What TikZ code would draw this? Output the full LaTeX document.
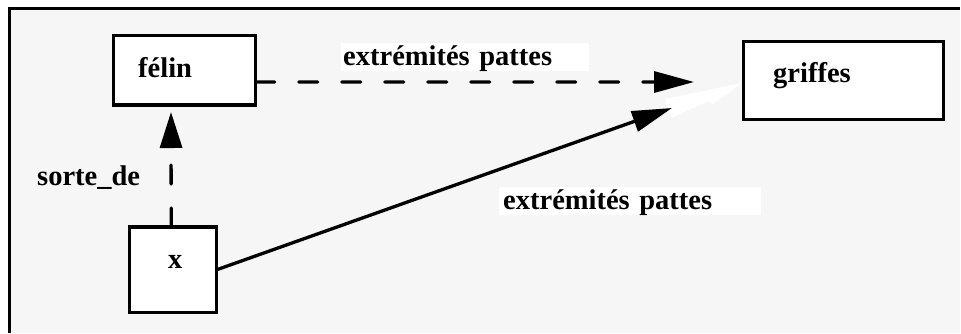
\documentclass[tikz,border=0pt]{standalone}
\usepackage{fontspec}
\setmainfont{Liberation Serif}
\usetikzlibrary{arrows.meta}
\begin{document}
\begin{tikzpicture}[x=1pt,y=-1pt,
  box/.style={draw, fill=white, line width=3.5pt, rectangle, inner sep=0pt, outer sep=0pt, anchor=north west},
  txt/.style={inner sep=0pt, anchor=base west, font=\fontsize{28.5}{30}\selectfont\bfseries},
  lab/.style={txt, fill=white, text height=22pt, text depth=6pt, inner ysep=0pt, align=left},
  conn/.style={line width=3.3pt},
  dashconn/.style={conn, line cap=round, dash pattern=on 19pt off 24pt},
  head/.style={-{Triangle[length=40pt,width=21pt]}}
]
\useasboundingbox (0,0) rectangle (961,333);
\fill[gray!7] (9,8) rectangle (960,333);
\draw[line width=3pt] (9,333) -- (9,8) -- (960,8);

% boxes
\node[box, minimum width=142pt, minimum height=69.5pt] (felin) at (113.7,35.3) {};
\node[box, minimum width=200pt, minimum height=78pt] (griffes) at (743.5,41.5) {};
\node[box, minimum width=87pt, minimum height=85.5pt] (x) at (129.7,227) {};

% texts
\node[txt] (felintxt) at (138,77) {félin};
\node[txt] (griffestxt) at (773,82) {griffes};
\node[txt] (xtxt) at (168,268) {x};
\node[txt] (sorte) at (37,185) {sorte\_de};
\node[lab, text width=244pt, inner xsep=2pt] (ext1) at (341,65) {extrémités pattes};
\node[lab, text width=254pt, inner xsep=4pt] (ext2) at (499,209) {extrémités pattes};

% connectors
\coordinate (htip) at (694,82);
\draw[dashconn, head] ([yshift=-12pt]felin.east) -- (htip);

\coordinate (vtip) at (171,112);
\draw[dashconn, -{Triangle[length=36pt,width=22pt]}] ([xshift=-2pt]x.north) -- (vtip);

\coordinate (btip) at (672,108);
\fill[white] (665,99) -- (742,83) -- (713,104) -- (708,101) -- (672,118) -- cycle;
\draw[conn, head] (x.east) -- (btip);
\end{tikzpicture}
\end{document}
